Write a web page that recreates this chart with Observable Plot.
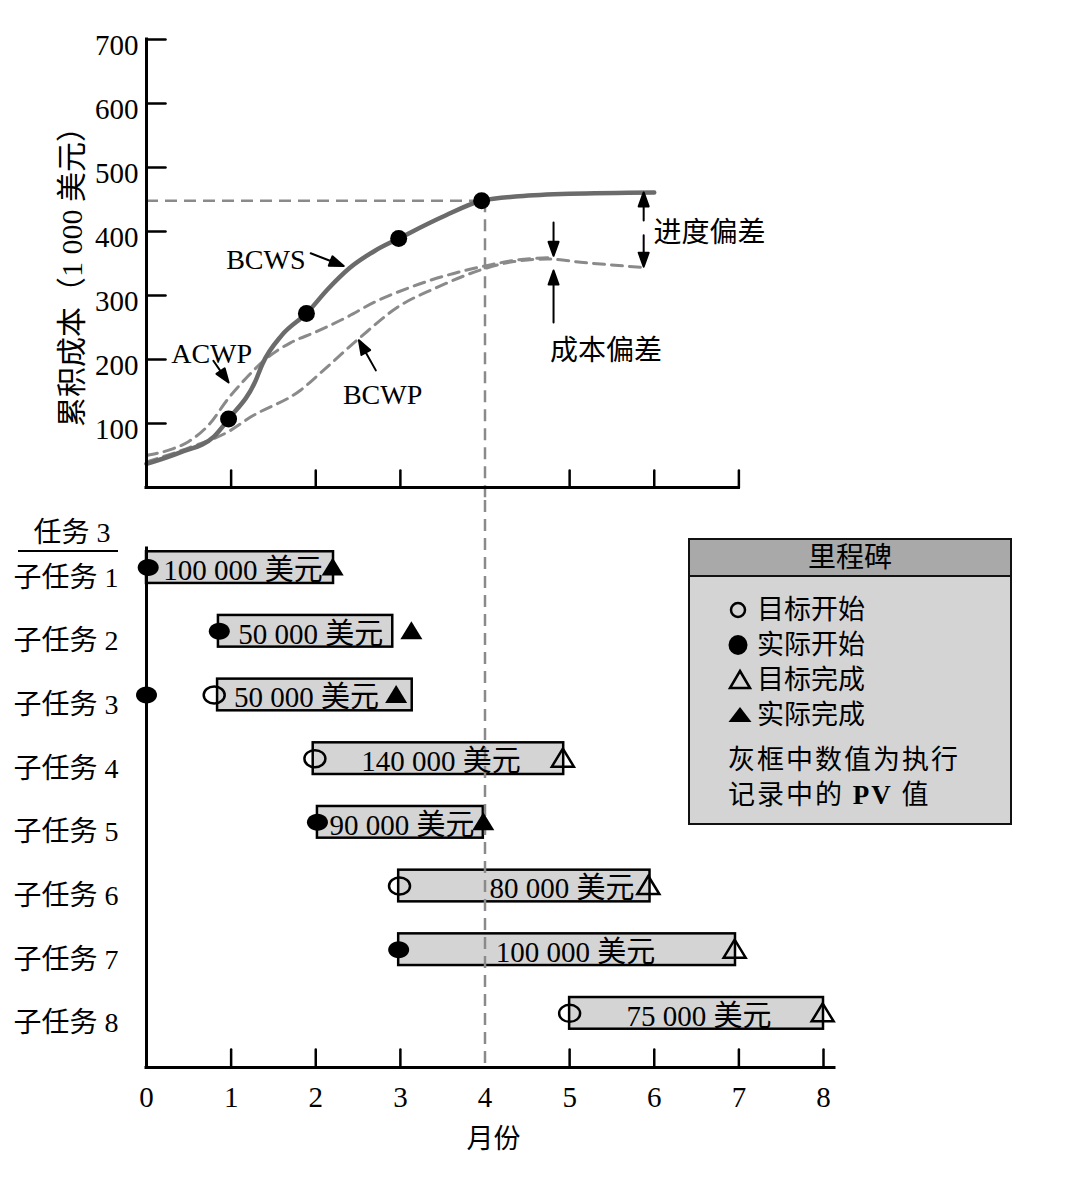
<!DOCTYPE html>
<html><head><meta charset="utf-8">
<script src="https://cdn.jsdelivr.net/npm/d3@7"></script>
<script src="https://cdn.jsdelivr.net/npm/@observablehq/plot@0.6"></script>
<style>
html,body{margin:0;padding:0;background:#fff;}
#wrap{position:relative;width:1072px;height:1186px;overflow:hidden;font-family:"Liberation Serif","Noto Sans CJK SC",serif;color:#000;}
#top,#bottom{position:absolute;left:0;}
#top{top:0;} #bottom{top:500px;}
#task3{position:absolute;left:18px;top:514px;width:100px;height:38px;border-bottom:2.5px solid #000;font-size:28px;line-height:38px;text-align:center;padding-left:8px;box-sizing:border-box;}
#legend{position:absolute;left:688px;top:538px;width:324px;height:287px;box-sizing:border-box;border:2px solid #111;background:#d4d4d4;}
#legend .hd{position:absolute;left:0;top:0;right:0;height:35px;background:#a9a9a9;border-bottom:2px solid #111;text-align:center;font-size:28px;line-height:35px;}
#legend .row{position:absolute;font-size:27px;line-height:34px;height:34px;white-space:nowrap;}
#legend .note{position:absolute;font-size:27px;line-height:34px;height:34px;white-space:nowrap;letter-spacing:2px;}
#legend svg{position:absolute;overflow:visible;}
</style></head>
<body>
<div id="wrap">
  <div id="top"></div>
  <div id="bottom"></div>
  <div id="task3"></div>
  <div id="legend"></div>
</div>
<script>
// ---------- data: top chart (months, thousands of dollars) ----------
const months = [0, 1, 2, 3, 4, 5, 6, 7, 8];
const costTicks = [100, 200, 300, 400, 500, 600, 700];
const topMonthTicks = [1, 2, 3, 5, 6, 7];
const bottomMonthTicks = [1, 2, 3, 5, 6, 7, 8];
const yAxisLabel = "累积成本（1 000 美元）";
const xAxisLabel = "月份";

const bcws = [[0, 37], [0.4, 55], [0.8, 80], [0.97, 107], [1.29, 167], [1.37, 193], [1.6, 238], [1.89, 272], [2.15, 311], [2.4, 343], [2.7, 370], [2.98, 389], [3.5, 423], [3.96, 448], [4.4, 455], [5, 459], [6, 461]];
const acwp = [[0, 50], [0.3, 60], [0.5, 72], [0.75, 100], [0.96, 138], [1.15, 167], [1.43, 203], [1.7, 226], [2.0, 243], [2.35, 265], [2.7, 290], [3.1, 312], [3.7, 337], [4.03, 347], [4.4, 356], [4.75, 359]];
const bcwp = [[0, 40], [0.5, 62], [0.99, 89], [1.23, 110], [1.82, 152], [2.09, 183], [2.53, 235], [2.97, 282], [3.44, 313], [3.95, 340], [4.34, 353], [4.74, 357], [5.13, 352], [5.84, 344]];
const bcwsMilestones = [[0.97, 107], [1.89, 272], [2.98, 389], [3.96, 448]];
const statusMonth = 4;
const statusBCWS = 448;

const curveLabels = [
  {text: "BCWS", x: 1.41, y: 356},
  {text: "ACWP", x: 0.77, y: 209},
  {text: "BCWP", x: 2.79, y: 144}
];
const curveArrows = [
  {x1: 1.94, y1: 366, x2: 2.33, y2: 346},
  {x1: 0.79, y1: 198, x2: 0.97, y2: 164},
  {x1: 2.71, y1: 183, x2: 2.51, y2: 230}
];
const varianceArrows = [
  {x1: 5.875, y1: 417, x2: 5.875, y2: 461},
  {x1: 5.875, y1: 394, x2: 5.875, y2: 345},
  {x1: 4.81, y1: 414, x2: 4.81, y2: 362},
  {x1: 4.81, y1: 258, x2: 4.81, y2: 339}
];
const scheduleLabel = [{text: "进度偏差", x: 5.99, y: 398}];
const costLabel = [{text: "成本偏差", x: 5.43, y: 214}];

// ---------- data: bottom chart (Gantt) ----------
const taskTitle = "任务 3";
const subtasks = ["子任务 1", "子任务 2", "子任务 3", "子任务 4", "子任务 5", "子任务 6", "子任务 7", "子任务 8"];
const barStart = [0, 0.85, 0.84, 1.97, 2.02, 2.98, 2.98, 5.0];
const barEnd = [2.21, 2.91, 3.14, 4.93, 3.98, 5.95, 6.96, 8.0];
const pvLabels = ["100 000 美元", "50 000 美元", "50 000 美元", "140 000 美元", "90 000 美元", "80 000 美元", "100 000 美元", "75 000 美元"];
const labelAt = [1.14, 1.94, 1.89, 3.48, 3.02, 4.91, 5.07, 6.53];
const targetStart = [null, null, 0.80, 1.99, null, 2.99, null, 5.0];
const actualStart = [0.02, 0.86, 0, null, 2.02, null, 2.98, null];
const targetFinish = [null, null, null, 4.92, null, 5.93, 6.95, 7.99];
const actualFinish = [2.2, 3.13, 2.95, null, 3.98, null, null, null];

const legendTitle = "里程碑";
const legendItems = [
  {kind: "targetStart", label: "目标开始"},
  {kind: "actualStart", label: "实际开始"},
  {kind: "targetFinish", label: "目标完成"},
  {kind: "actualFinish", label: "实际完成"}
];
const legendNote = ["灰框中数值为执行", "记录中的 <b>PV</b> 值"];

// ---------- drawing ----------
const FONT = '"Liberation Serif","Noto Sans CJK SC",serif';
const GRAY = "#8a8a8a";
const DASH = "12,7";
const xOpts = {domain: [0, 8], range: [146, 823]};
const yTopOpts = {domain: [0, 700], range: [487, 39]};
const sx = Plot.scale({x: xOpts});
const syTop = Plot.scale({y: yTopOpts});

const lineShape = {draw(ctx, l) { ctx.moveTo(0, 0); ctx.lineTo(0, -l); }};
const arrowShape = {draw(ctx, l) {
  const h = 14, w = 5;
  ctx.moveTo(0, 0); ctx.lineTo(0, -(l - h));
  ctx.moveTo(0, -l); ctx.lineTo(w, -(l - h)); ctx.lineTo(-w, -(l - h)); ctx.closePath();
}};
function arrowMark(a, sy) {
  const dx = sx.apply(a.x2) - sx.apply(a.x1);
  const dy = sy.apply(a.y2) - sy.apply(a.y1);
  return Plot.vector([a], {
    x: "x1", y: "y1", length: Math.hypot(dx, dy),
    rotate: Math.atan2(dx, -dy) * 180 / Math.PI,
    anchor: "start", shape: arrowShape, stroke: "#000", fill: "#000", strokeWidth: 2
  });
}
const ellipseSym = {draw(ctx) {
  const rx = 10.5, ry = 8.5, k = 0.5523;
  ctx.moveTo(rx, 0);
  ctx.bezierCurveTo(rx, ry * k, rx * k, ry, 0, ry);
  ctx.bezierCurveTo(-rx * k, ry, -rx, ry * k, -rx, 0);
  ctx.bezierCurveTo(-rx, -ry * k, -rx * k, -ry, 0, -ry);
  ctx.bezierCurveTo(rx * k, -ry, rx, -ry * k, rx, 0);
  ctx.closePath();
}};
const triSym = {draw(ctx) { ctx.moveTo(0, -10); ctx.lineTo(11, 8); ctx.lineTo(-11, 8); ctx.closePath(); }};

const topPlot = Plot.plot({
  width: 1072, height: 500,
  marginTop: 39, marginBottom: 13, marginLeft: 146, marginRight: 249,
  x: {...xOpts, axis: null},
  y: {...yTopOpts, axis: null},
  style: {fontFamily: FONT, fontSize: "27px", background: "transparent", overflow: "visible", color: "#000"},
  marks: [
    Plot.ruleY([statusBCWS], {x1: 0, x2: statusMonth, stroke: GRAY, strokeWidth: 2.5, strokeDasharray: DASH}),
    Plot.ruleX([statusMonth], {y1: statusBCWS, y2: 0, insetBottom: -13, stroke: GRAY, strokeWidth: 2.5, strokeDasharray: DASH}),
    Plot.line(bcwp, {curve: "monotone-x", stroke: GRAY, strokeWidth: 3, strokeDasharray: "11,7"}),
    Plot.line(acwp, {curve: "monotone-x", stroke: GRAY, strokeWidth: 3, strokeDasharray: "11,7"}),
    Plot.line(bcws, {curve: "monotone-x", stroke: "#6b6b6b", strokeWidth: 4.5}),
    Plot.dot(bcwsMilestones, {r: 8.5, fill: "#000", stroke: "none"}),
    Plot.ruleX([0], {y1: 0, y2: 700, stroke: "#000", strokeWidth: 3, strokeLinecap: "square"}),
    Plot.ruleY([0], {x1: 0, x2: 7, stroke: "#000", strokeWidth: 3, strokeLinecap: "square"}),
    Plot.vector(costTicks, {x: 0, y: d => d, length: 19, rotate: 90, anchor: "start", shape: lineShape, stroke: "#000", strokeWidth: 2.5}),
    Plot.vector(topMonthTicks, {x: d => d, y: 0, length: 17, rotate: 0, anchor: "start", shape: lineShape, stroke: "#000", strokeWidth: 2.5}),
    Plot.text(costTicks, {x: 0, y: d => d, text: d => String(d), textAnchor: "end", dx: -8, dy: 6, fontSize: 29}),
    Plot.text([yAxisLabel], {frameAnchor: "left", textAnchor: "middle", dx: -74, dy: 6, rotate: -90, fontSize: 30}),
    Plot.text(curveLabels, {x: "x", y: "y", text: "text", fontSize: 28}),
    Plot.text(scheduleLabel, {x: "x", y: "y", text: "text", textAnchor: "start", fontSize: 28}),
    Plot.text(costLabel, {x: "x", y: "y", text: "text", fontSize: 28}),
    ...curveArrows.map(a => arrowMark(a, syTop)),
    ...varianceArrows.map(a => arrowMark(a, syTop))
  ]
});
document.getElementById("top").appendChild(topPlot);

const rows = subtasks.map((name, i) => ({name, row: i + 1, start: barStart[i], end: barEnd[i], label: pvLabels[i], labelX: labelAt[i]}));
const pts = arr => arr.map((v, i) => v == null ? null : {x: v, row: i + 1}).filter(Boolean);
const yBotDomain = [subtasks.length + 0.85, 0.7];

const bottomPlot = Plot.plot({
  width: 1072, height: 686,
  marginTop: 48, marginBottom: 119, marginLeft: 146, marginRight: 249,
  x: {...xOpts, axis: null},
  y: {domain: yBotDomain, axis: null},
  style: {fontFamily: FONT, fontSize: "27px", background: "transparent", overflow: "visible", color: "#000"},
  marks: [
    Plot.rect(rows, {x1: "start", x2: "end", y1: d => d.row - 0.5, y2: d => d.row + 0.5, insetTop: 16, insetBottom: 16, fill: "#d4d4d4", stroke: "#000", strokeWidth: 2.5}),
    Plot.ruleX([statusMonth], {stroke: GRAY, strokeWidth: 2.5, strokeDasharray: DASH, insetTop: -48}),
    Plot.text(rows, {x: "labelX", y: "row", text: "label", fontSize: 29, dy: 3}),
    Plot.text(rows, {x: 0, y: "row", text: "name", textAnchor: "end", dx: -28, dy: 10, fontSize: 28}),
    Plot.dot(pts(targetStart), {x: "x", y: "row", symbol: ellipseSym, fill: "none", stroke: "#000", strokeWidth: 2.5}),
    Plot.dot(pts(actualStart), {x: "x", y: "row", symbol: ellipseSym, fill: "#000", stroke: "none"}),
    Plot.dot(pts(targetFinish), {x: "x", y: "row", symbol: triSym, fill: "none", stroke: "#000", strokeWidth: 2.5}),
    Plot.dot(pts(actualFinish), {x: "x", y: "row", symbol: triSym, fill: "#000", stroke: "none"}),
    Plot.ruleX([0], {stroke: "#000", strokeWidth: 3, strokeLinecap: "square"}),
    Plot.ruleY([yBotDomain[0]], {x1: 0, x2: 8.13, stroke: "#000", strokeWidth: 3, strokeLinecap: "square"}),
    Plot.vector(bottomMonthTicks, {x: d => d, frameAnchor: "bottom", length: 18, rotate: 0, anchor: "start", shape: lineShape, stroke: "#000", strokeWidth: 2.5}),
    Plot.text(months, {x: d => d, frameAnchor: "bottom", text: d => String(d), dy: 39, fontSize: 29}),
    Plot.text([xAxisLabel], {x: [4.1], frameAnchor: "bottom", text: d => d, dy: 80, fontSize: 27})
  ]
});
document.getElementById("bottom").appendChild(bottomPlot);

document.getElementById("task3").textContent = taskTitle;

// legend
const legend = document.getElementById("legend");
const iconSvg = kind => {
  if (kind === "targetStart") return '<circle cx="0" cy="0" r="7" fill="none" stroke="#000" stroke-width="2.5"/>';
  if (kind === "actualStart") return '<ellipse cx="0" cy="0" rx="9.5" ry="10" fill="#000"/>';
  if (kind === "targetFinish") return '<path d="M0,-9L10,8L-10,8Z" fill="none" stroke="#000" stroke-width="2.5"/>';
  return '<path d="M0,-8L11.5,7L-11.5,7Z" fill="#000"/>';
};
let html = `<div class="hd">${legendTitle}</div>`;
legendItems.forEach((it, i) => {
  const cy = 70 + 35 * i;
  const cx = it.kind.endsWith("Start") ? 48 : 50;
  html += `<svg width="1" height="1" style="left:${cx}px;top:${cy}px">${iconSvg(it.kind)}</svg>`;
  html += `<div class="row" style="left:67px;top:${cy - 17}px">${it.label}</div>`;
});
legendNote.forEach((t, i) => {
  html += `<div class="note" style="left:38px;top:${220 + 35 * i - 17}px">${t}</div>`;
});
legend.innerHTML = html;
</script>
</body></html>
